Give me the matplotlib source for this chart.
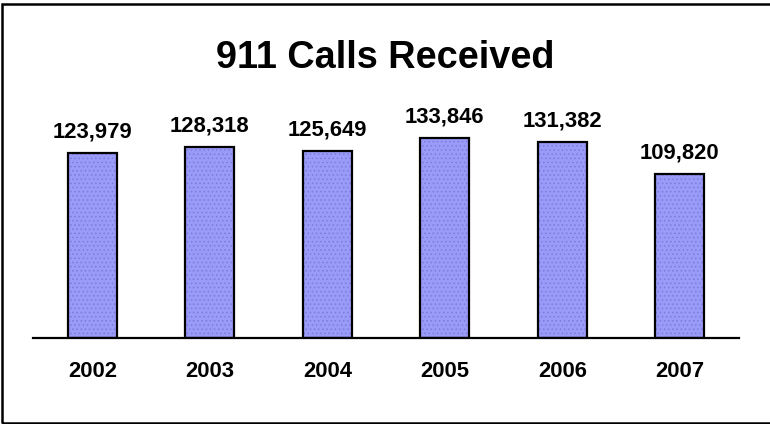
import matplotlib
matplotlib.use("Agg")
from matplotlib import pyplot as plt
from matplotlib.patches import Rectangle
import numpy as np

years = ["2002", "2003", "2004", "2005", "2006", "2007"]
calls = [123979, 128318, 125649, 133846, 131382, 109820]

plt.rcParams["font.family"] = ["Liberation Sans", "DejaVu Sans"]
plt.rcParams["hatch.linewidth"] = 0.6

fig = plt.figure(figsize=(7.7, 4.24), dpi=100)
ax = fig.add_axes([33 / 770, 86 / 424, 706 / 770, 238.7 / 424])

x_pos = np.arange(len(years))
# flat fill, then a fine dotted texture, then the black outline
ax.bar(x_pos, calls, width=0.42, color="#9a9af8", linewidth=0, zorder=2)
ax.bar(x_pos, calls, width=0.42, color="none", edgecolor="#7c7cdc",
       hatch="....", linewidth=0, zorder=3)
ax.bar(x_pos, calls, width=0.42, color="none", edgecolor="black",
       linewidth=1.6, zorder=4)

for x, v in zip(x_pos, calls):
    ax.annotate(f"{v:,}", (x, v), xytext=(0, 7.5), textcoords="offset points",
                ha="center", va="bottom", fontsize=15.8, fontweight="bold")

ax.set_xlim(-0.505, 5.505)
ax.set_ylim(0, 160000)
ax.set_xticks(x_pos)
ax.set_xticklabels(years, fontsize=15.8, fontweight="bold")
ax.set_yticks([])
ax.tick_params(axis="x", length=0, pad=16.5)
for side in ["top", "left", "right"]:
    ax.spines[side].set_visible(False)
ax.spines["bottom"].set_linewidth(1.6)
ax.spines["bottom"].set_zorder(5)

fig.text(0.5, 1 - 68 / 424, "911 Calls Received", ha="center", va="baseline",
         fontsize=27.3, fontweight="bold")

# frame around the whole chart
fig.add_artist(Rectangle((2 / 770, 1 - 422.5 / 424), 780 / 770, 418.5 / 424,
                         transform=fig.transFigure, fill=False,
                         edgecolor="black", linewidth=1.8))

plt.savefig("out.png", dpi=100)
